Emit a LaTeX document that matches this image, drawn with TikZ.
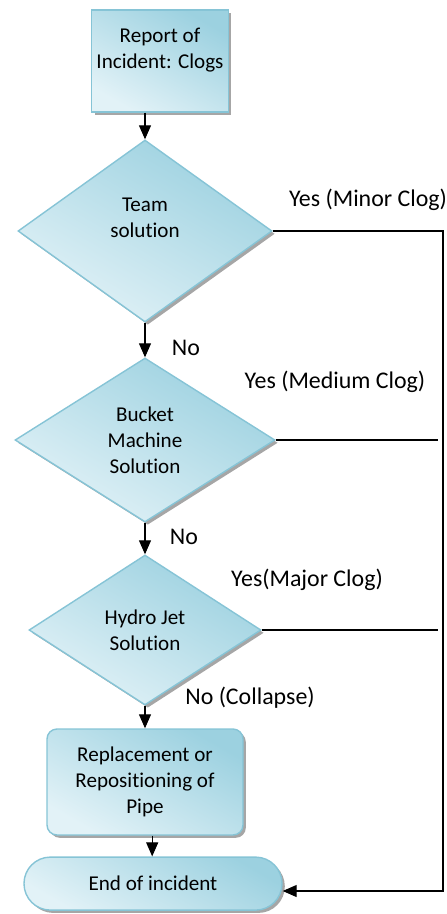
\documentclass[tikz,border=0pt]{standalone}
\usepackage{fontspec}
\setmainfont{Carlito}[Ligatures=NoCommon]
\definecolor{fcdark}{RGB}{156,209,224}
\definecolor{fclight}{RGB}{226,242,247}
\definecolor{fcedge}{RGB}{134,196,214}
\usetikzlibrary{arrows.meta,positioning,shapes.geometric,shadows}

\begin{document}
\begin{tikzpicture}[
  every node/.style={font=\fontsize{15}{18.5}\selectfont,align=center},
  box/.style={draw=fcedge,line width=1pt,top color=fcdark,bottom color=fclight,shading angle=-30,
    drop shadow={shadow xshift=2pt,shadow yshift=-2pt,fill=black!35,opacity=1}},
  decide/.style={box,diamond,aspect=1.6,inner sep=0pt},
  tag/.style={font=\fontsize{17}{20}\selectfont},
  arr/.style={-{Triangle[length=0.35cm,width=0.3cm]},line width=0.8pt},
  link/.style={line width=0.8pt}
]
  \useasboundingbox (0,0) rectangle (11.175,-22.85);

  % Start and decisions
  \node[box,minimum width=3.25cm,minimum height=2.55cm] (report) at (4.0,-1.525) {Report of\\Incident: Clogs\\~};
  \node[decide,minimum width=6.35cm,minimum height=4.55cm] (team) at (3.625,-5.775) {Team\\solution\\~};
  \node[decide,minimum width=6.5cm,minimum height=4.1cm] (bucket) at (3.625,-11.0) {Bucket\\Machine\\Solution};
  \node[decide,minimum width=5.8cm,minimum height=3.75cm] (hydro) at (3.625,-15.75) {Hydro Jet\\Solution};

  % Last steps
  \node[box,rounded corners=0.25cm,minimum width=4.9cm,minimum height=2.65cm] (repl) at (3.625,-19.55) {Replacement or\\Repositioning of\\Pipe};
  \node[box,rounded corners=0.66cm,minimum width=6.45cm,minimum height=1.325cm] (finish) at (3.825,-22.09) {End of incident};

  % Main flow
  \draw[arr] (report.south -| team.north) -- (team.north);
  \draw[arr] (team.south) -- (bucket.north);
  \draw[arr] (bucket.south) -- (hydro.north);
  \draw[arr] (hydro.south) -- (repl.north);
  \draw[arr] ([xshift=0.18cm]repl.south) -- ([xshift=0.18cm]repl.south |- finish.north);

  % Yes branches to the end
  \coordinate (rail) at (11.075,-22.275);
  \draw[arr] (team.east) -- (team.east -| rail) -- (rail) -- (rail -| finish.east);
  \draw[link] (bucket.east) -- ([xshift=-0.12cm]bucket.east -| rail);
  \draw[link] (hydro.east) -- ([xshift=-0.12cm]hydro.east -| rail);

  % Labels
  \node[tag] (yes1) at (9.2,-5.0) {Yes (Minor Clog)};
  \node[tag] (no1) at (4.65,-8.7) {No};
  \node[tag] (yes2) at (8.375,-9.55) {Yes (Medium Clog)};
  \node[tag] (no2) at (4.6,-13.425) {No};
  \node[tag] (yes3) at (7.675,-14.5) {Yes(Major Clog)};
  \node[tag] (no3) at (6.25,-17.45) {No (Collapse)};
\end{tikzpicture}
\end{document}
